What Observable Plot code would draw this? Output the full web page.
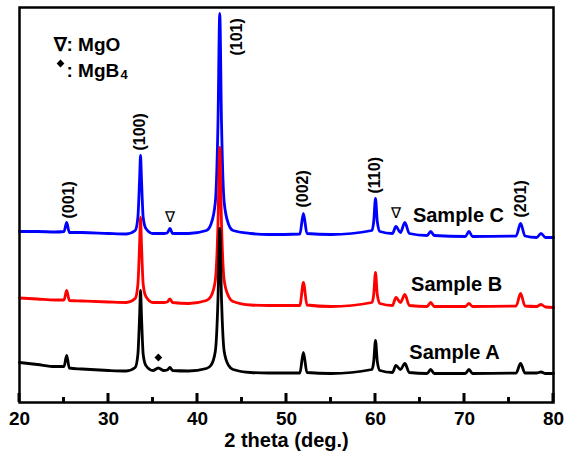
<!DOCTYPE html>
<html>
<head>
<meta charset="utf-8">
<script src="https://cdn.jsdelivr.net/npm/d3@7"></script>
<script src="https://cdn.jsdelivr.net/npm/@observablehq/plot@0.6"></script>
<style>
  html, body { margin: 0; padding: 0; background: #fff; }
  #chart { width: 564px; height: 464px; }
</style>
</head>
<body>
<div id="chart"></div>
<script>
// 2 theta positions (deg.)
const twoTheta = [20, 22, 24, 25.0, 25.3, 25.6, 27, 30, 32, 33.0, 33.3, 33.5, 33.6, 33.7, 33.9, 34.2,
  35, 35.6, 36.2, 36.6, 36.9, 37.2, 39, 41, 41.5, 42.0, 42.3, 42.5, 42.7, 43.0, 43.5, 44, 46, 48,
  51.5, 51.9, 52.3, 55, 59.6, 59.8, 60.0, 60.2, 60.5, 61.9, 62.3, 62.8, 63.3, 63.8, 65.8, 66.2, 66.6,
  70.1, 70.5, 70.9, 75.8, 76.3, 76.8, 78.1, 78.6, 79.1, 80];

// intensities (a.u., stacked) for each sample
const sampleC = [171, 171, 170.5, 171, 180, 170, 170, 169, 168.5, 172, 185, 225, 247, 225, 185, 174,
  169, 169, 169, 169.5, 174, 169, 169, 172, 178, 200, 279, 389, 279, 200, 178, 172, 169, 168,
  168.5, 189, 169, 168, 172, 181, 204, 181, 171, 169, 176, 170, 180, 169, 167, 171, 167,
  166, 171, 166, 166.5, 179, 166.5, 165, 169, 165, 165];
const sampleB = [104.5, 103.5, 102.5, 102.5, 112, 102, 101.5, 100.5, 100, 104, 118, 160, 185, 160, 118, 106,
  100, 100, 100, 100.5, 103.5, 100, 99, 102, 106, 122, 178, 255, 178, 122, 106, 101, 97.5, 97,
  97, 120, 97.5, 96, 100, 108, 130, 108, 99, 97, 105, 100, 108, 97, 96, 100, 96,
  96, 99, 96, 96.5, 109, 96.5, 96, 98, 95.5, 95];
const sampleA = [40, 38, 36, 36, 47, 34.5, 33.5, 32, 31.5, 35, 48, 88, 112, 88, 48, 37,
  32, 34.5, 32, 32.5, 35, 32, 31.5, 34, 37, 51, 103, 174, 103, 51, 37, 33, 30, 29.5,
  29.5, 50, 30, 29, 33, 41, 62, 41, 32, 30, 37, 33, 39, 30, 29, 33, 29,
  29, 33, 29, 29.5, 39, 29.5, 29.5, 30.5, 29, 29];

const sampleNames = ["Sample C", "Sample B", "Sample A"];
const sampleColors = ["#0000ff", "#ff0000", "#000000"];
const sampleLabelX = [64.2, 64.0, 63.8];
const sampleLabelY = [187, 118, 50];

// Miller index labels
const peakLabels = ["(001)", "(100)", "(101)", "(002)", "(110)", "(201)"];
const peakLabelX = [25.6, 33.55, 44.4, 51.85, 59.95, 76.35];
const peakLabelY = [184, 252, 347, 195, 209, 185];

// impurity markers
const mgoX = [36.9, 62.25];
const mgoY = [185, 189];
const mgb4X = [35.6];
const mgb4Y = [45];

const majorTicks = [20, 30, 40, 50, 60, 70, 80];
const minorTicks = [25, 35, 45, 55, 65, 75];

const series = [sampleC, sampleB, sampleA];
const rows = [];
series.forEach((vals, s) => {
  vals.forEach((v, i) => rows.push({x: twoTheta[i], y: v, sample: sampleNames[s]}));
});

const font = "Liberation Sans, Arial, sans-serif";

const chart = Plot.plot({
  width: 564,
  height: 464,
  marginLeft: 19,
  marginRight: 11,
  marginTop: 7,
  marginBottom: 62,
  style: {fontFamily: font, fontWeight: "bold", fontSize: "19px", color: "#000", background: "#fff"},
  x: {domain: [20, 80]},
  y: {domain: [0, 395], axis: null},
  color: {domain: sampleNames, range: sampleColors},
  marks: [
    Plot.line(rows, {x: "x", y: "y", z: "sample", stroke: "sample", strokeWidth: 2.8, curve: "monotone-x"}),
    Plot.axisX({ticks: majorTicks, tickSize: 0, tickPadding: 9, label: null, fontSize: 19, fontWeight: "bold", fill: "#000"}),
    Plot.frame({stroke: "#000", strokeWidth: 2.5}),
    // inward tick marks
    Plot.rect(minorTicks, {x1: d => d - 0.15, x2: d => d + 0.15, y1: d => 0, y2: d => 5, fill: "#000"}),
    Plot.rect(majorTicks, {x1: d => d - 0.15, x2: d => d + 0.15, y1: d => 0, y2: d => 9, fill: "#000"}),
    Plot.text(peakLabels, {x: (d, i) => peakLabelX[i], y: (d, i) => peakLabelY[i], text: d => d,
      rotate: -90, textAnchor: "start", fontSize: 16, fontWeight: "bold", fill: "#000"}),
    Plot.text(sampleNames, {x: (d, i) => sampleLabelX[i], y: (d, i) => sampleLabelY[i], text: d => d,
      textAnchor: "start", fontSize: 20, fontWeight: "bold", fill: "#000"}),
    Plot.text(mgoX, {x: d => d, y: (d, i) => mgoY[i], text: () => "∇", fontSize: 15, fontWeight: "normal", fill: "#000"}),
    Plot.dot(mgb4X, {x: d => d, y: (d, i) => mgb4Y[i], symbol: "diamond2", r: 3.5, fill: "#000", stroke: "none"}),
    // legend
    Plot.text(["∇: MgO"], {frameAnchor: "top-left", dx: 34, dy: 30, textAnchor: "start", fontSize: 19, fontWeight: "bold", fill: "#000"}),
    Plot.dot(["MgB4"], {frameAnchor: "top-left", dx: 41, dy: 56, symbol: "diamond2", r: 3.5, fill: "#000", stroke: "none"}),
    Plot.text([": MgB"], {frameAnchor: "top-left", dx: 47, dy: 56, textAnchor: "start", fontSize: 19, fontWeight: "bold", fill: "#000"}),
    Plot.text(["4"], {frameAnchor: "top-left", dx: 101, dy: 62, textAnchor: "start", fontSize: 13, fontWeight: "bold", fill: "#000"}),
    // axis title
    Plot.text(["2 theta (deg.)"], {frameAnchor: "bottom", dy: 44, fontSize: 20, fontWeight: "bold", fill: "#000"})
  ]
});

// extra inward ticks placed with Plot's own x and y scales
const xs = chart.scale("x"), ys = chart.scale("y");
const svg = d3.select(chart);
const tickGroup = svg.append("g").attr("stroke", "#000").attr("stroke-width", 2.5);
const y0 = ys.apply(0);
majorTicks.forEach(t => {
  const px = xs.apply(t);
  tickGroup.append("line").attr("x1", px).attr("x2", px).attr("y1", y0).attr("y2", y0 - 9);
});
minorTicks.forEach(t => {
  const px = xs.apply(t);
  tickGroup.append("line").attr("x1", px).attr("x2", px).attr("y1", y0).attr("y2", y0 - 5);
});

document.getElementById("chart").appendChild(chart);
</script>
</body>
</html>
